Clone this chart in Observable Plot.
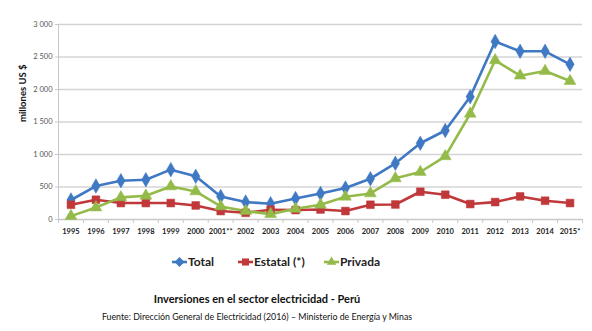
<!DOCTYPE html>
<html>
<head>
<meta charset="utf-8">
<script src="https://cdn.jsdelivr.net/npm/d3@7"></script>
<script src="https://cdn.jsdelivr.net/npm/@observablehq/plot@0.6"></script>
<style>
  html, body { margin: 0; padding: 0; background: #fff; }
  body { width: 592px; height: 331px; position: relative; font-family: Lato, "Open Sans", sans-serif; overflow: hidden; }
  #chart { position: absolute; left: 0; top: 0; }
  #legend { position: absolute; left: 0; top: 254px; width: 592px; height: 16px; font-weight: bold; font-size: 12px; color: #222; }
  .li { position: absolute; top: 0; display: flex; align-items: center; }
  .li svg { margin-right: 1px; }
  #title { position: absolute; top: 292px; left: 0; width: 514px; text-align: center; font-weight: bold; font-size: 11px; color: #111; }
  #caption { position: absolute; top: 311px; left: 0; width: 514px; text-align: center; font-size: 8.8px; color: #111; }
</style>
</head>
<body>
<div id="chart"></div>
<div id="legend"></div>
<div id="title">Inversiones en el sector electricidad - Perú</div>
<div id="caption">Fuente: Dirección General de Electricidad (2016) – Ministerio de Energía y Minas</div>
<script>
const years = ["1995","1996","1997","1998","1999","2000","2001**","2002","2003","2004","2005","2006","2007","2008","2009","2010","2011","2012","2013","2014","2015*"];
const total   = [300, 515, 597, 612, 767, 664, 355, 268, 242, 324, 401, 484, 628, 864, 1173, 1369, 1889, 2738, 2588, 2588, 2387];
const estatal = [227, 304, 253, 253, 253, 216, 130, 103, 150, 145, 154, 130, 227, 231, 427, 381, 238, 268, 355, 289, 253];
const privada = [52, 185, 340, 366, 509, 432, 201, 130, 83, 165, 227, 350, 401, 633, 731, 972, 1627, 2449, 2213, 2285, 2130];
const seriesNames = ["Total", "Estatal (*)", "Privada"];
const seriesColors = ["#3f78c3", "#c0383a", "#94bb4a"];
const seriesSymbols = ["diamond", "square", "triangle"];
const yTicks = [0, 500, 1000, 1500, 2000, 2500, 3000];

const valuesBySeries = [total, estatal, privada];
const data = [];
valuesBySeries.forEach((vals, s) => vals.forEach((v, i) => data.push({i, year: years[i], value: v, series: seriesNames[s]})));

const fmt = d => d3.format(",")(d).replace(",", " ");
const idx = years.map((_, i) => i);
const bounds = years.map((_, i) => i - 0.5).concat([years.length - 0.5]);

const chart = Plot.plot({
  width: 592,
  height: 240,
  marginLeft: 58,
  marginRight: 10,
  marginTop: 24,
  marginBottom: 21,
  style: {fontFamily: "Lato, 'Open Sans', sans-serif", background: "white"},
  x: {type: "linear", domain: [-0.5, years.length - 0.5]},
  y: {domain: [0, 3000]},
  color: {domain: seriesNames, range: seriesColors},
  symbol: {domain: seriesNames, range: seriesSymbols},
  marks: [
    Plot.ruleY(yTicks.slice(1), {stroke: "#d4d4d4", strokeWidth: 1.3}),
    Plot.ruleX([-0.5], {stroke: "#c8c8c8", strokeWidth: 1}),
    Plot.ruleY([0], {stroke: "#c8c8c8", strokeWidth: 1.3}),
    Plot.axisY({ticks: yTicks, tickFormat: fmt, tickSize: 3, tickPadding: 3, stroke: "#c8c8c8", fill: "#555", fontSize: 7.5, label: null}),
    Plot.text(["millones US $"], {frameAnchor: "left", dx: -36, rotate: -90, fontWeight: "bold", fontSize: 9.5, fill: "#111"}),
    Plot.axisX({ticks: bounds, tickFormat: () => "", tickSize: 4, stroke: "#c8c8c8", label: null}),
    Plot.axisX({ticks: idx, tickFormat: i => years[i], tickSize: 0, tickPadding: 9, fontSize: 7.5, fontWeight: "bold", fill: "#222", label: null}),
    Plot.line(data, {x: "i", y: "value", z: "series", stroke: "series", strokeWidth: 2.6}),
    Plot.dot(data, {x: "i", y: "value", symbol: "series", fill: "series", stroke: "series", strokeWidth: 0.5, r: 4.4})
  ]
});
document.getElementById("chart").appendChild(chart);

// legend
const legend = document.getElementById("legend");
const legendLeft = [172, 238, 324];
const symbolPaths = {diamond: d3.symbolDiamond2, square: d3.symbolSquare2, triangle: d3.symbolTriangle2};
seriesNames.forEach((name, s) => {
  const item = document.createElement("div");
  item.className = "li";
  item.style.left = legendLeft[s] + "px";
  const svg = d3.create("svg").attr("width", 15).attr("height", 14);
  svg.append("line").attr("x1", 0).attr("x2", 15).attr("y1", 7).attr("y2", 7).attr("stroke", seriesColors[s]).attr("stroke-width", 2.6);
  svg.append("path").attr("transform", "translate(7.5,7)")
    .attr("d", d3.symbol(symbolPaths[seriesSymbols[s]], 64)())
    .attr("fill", seriesColors[s]);
  item.appendChild(svg.node());
  const t = document.createElement("span");
  t.textContent = name;
  item.appendChild(t);
  legend.appendChild(item);
});
</script>
</body>
</html>
